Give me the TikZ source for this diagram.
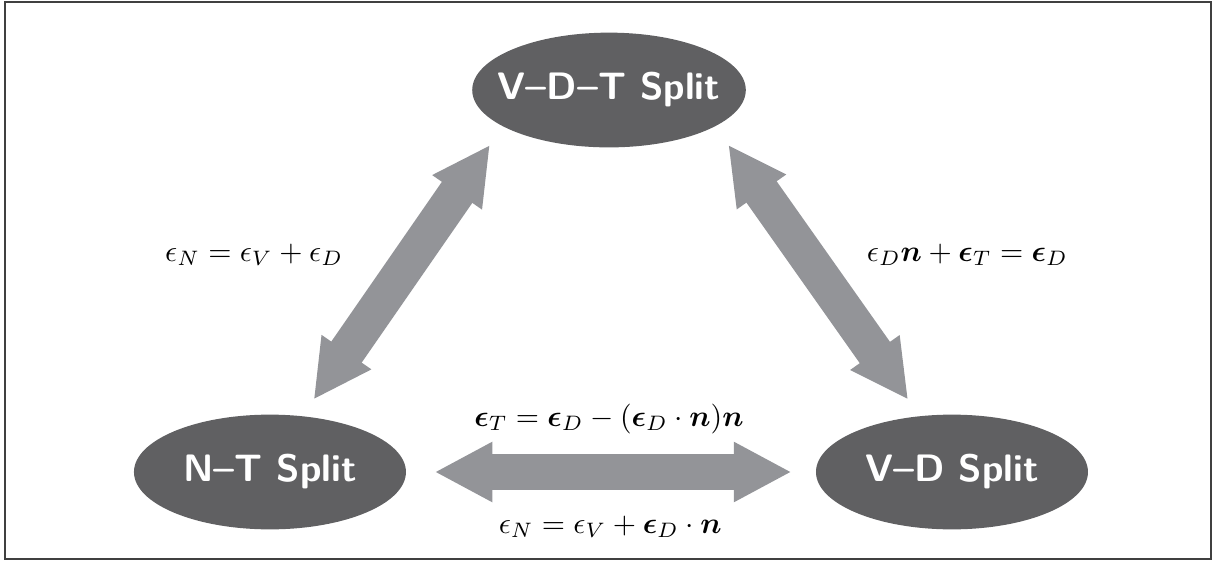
\documentclass[tikz,border=0pt]{standalone}
\definecolor{splitfill}{HTML}{606062}
\definecolor{linkgray}{HTML}{939498}
\definecolor{framegray}{HTML}{404040}
\usepackage{amsmath}
\usepackage{bm}
\usepackage{tikz}
\usetikzlibrary{arrows.meta, positioning, shapes.geometric}

\begin{document}
\begin{tikzpicture}[
    split/.style={ellipse, fill=splitfill, text=white,
      inner xsep=-0.17cm, inner ysep=0pt,
      minimum width=3.2cm, minimum height=1.35cm,
      font=\fontsize{12.8}{15}\selectfont\sffamily\bfseries},
    link/.style={draw=linkgray, line width=0.435cm,
      {Triangle[width=0.66cm, length=0.68cm]}-{Triangle[width=0.66cm, length=0.68cm]}}
  ]
  \useasboundingbox (0,0) rectangle (14.271,6.6);
  % frame
  \draw[framegray, line width=0.4pt] (0.059,0.024) rectangle (14.247,6.576);
  % splits
  \node[split] (vdt) at (7.165,5.541) {V--D--T Split};
  \node[split] (nt) at (3.176,1.047) {N--T Split};
  \node[split] (vd) at (11.2,1.047) {V--D Split};
  % links
  \draw[link, shorten <=0.23cm, shorten >=0.26cm] (nt.60) -- (vdt.199);
  \draw[link, shorten <=0.26cm, shorten >=0.23cm] (vdt.341) -- (vd.120);
  \draw[link, shorten <=0.33cm, shorten >=0.28cm] (nt.east) -- (vd.west);
  % relations
  \node (ntvdt) at (2.99,3.6) {$\epsilon_N = \epsilon_V + \epsilon_D$};
  \node (vdvdt) at (11.38,3.6) {$\epsilon_D\bm{n} + \bm{\epsilon}_T = \bm{\epsilon}_D$};
  \node (tang) at (7.165,1.67) {$\bm{\epsilon}_T = \bm{\epsilon}_D - (\bm{\epsilon}_D \cdot \bm{n})\bm{n}$};
  \node (norm) at (7.18,0.4) {$\epsilon_N = \epsilon_V + \bm{\epsilon}_D \cdot \bm{n}$};
\end{tikzpicture}
\end{document}
